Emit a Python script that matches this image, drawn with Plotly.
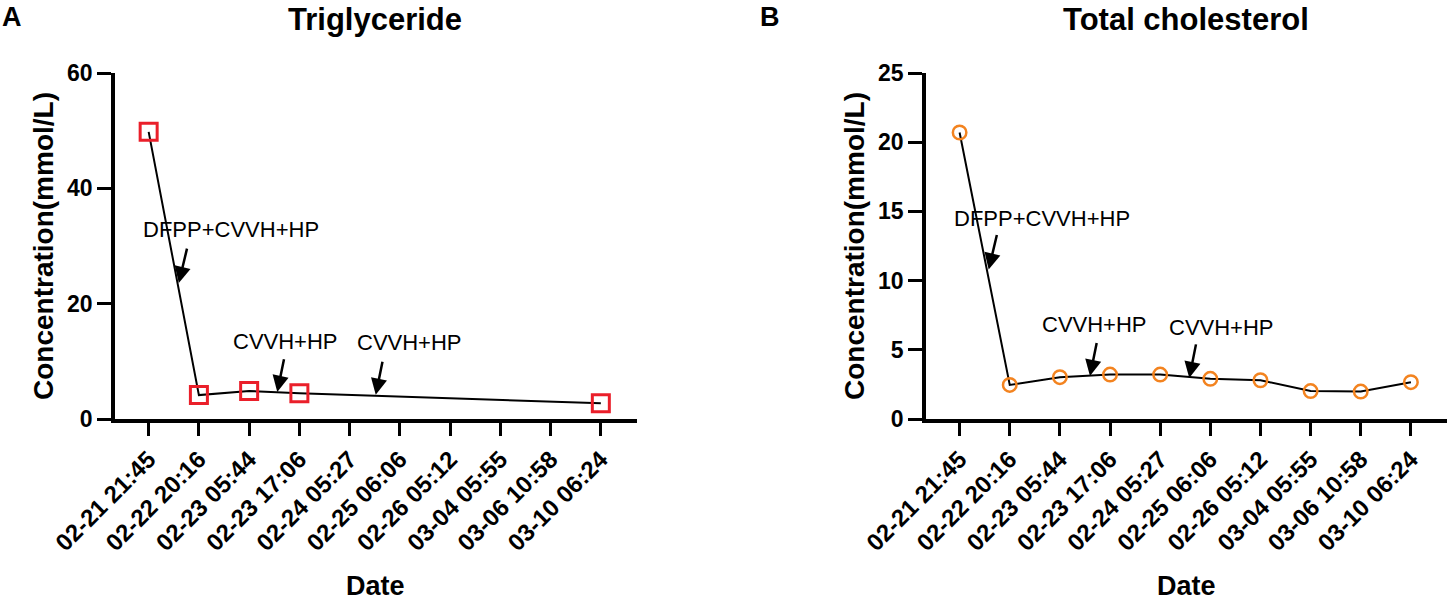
import plotly.graph_objects as go

dates = ["02-21 21:45", "02-22 20:16", "02-23 05:44", "02-23 17:06", "02-24 05:27",
         "02-25 06:06", "02-26 05:12", "03-04 05:55", "03-06 10:58", "03-10 06:24"]
idx = list(range(len(dates)))

tg_values = [49.8, 4.15, 4.85, 4.45, None, None, None, None, None, 2.72]
tc_values = [20.7, 2.46, 3.02, 3.21, 3.21, 2.9, 2.8, 2.02, 1.98, 2.66]

# annotations: (text, text_x, text_y, tail_x, tail_y, tip_x, tip_y)
tg_notes = [
    ("DFPP+CVVH+HP", 1.63, 32.8, 0.77, 29.8, 0.60, 23.6),
    ("CVVH+HP", 2.72, 13.4, 2.70, 10.6, 2.56, 4.7),
    ("CVVH+HP", 5.20, 13.2, 4.66, 10.2, 4.52, 4.2),
]
tc_notes = [
    ("DFPP+CVVH+HP", 1.65, 14.5, 0.75, 13.4, 0.58, 10.8),
    ("CVVH+HP", 2.70, 6.8, 2.74, 5.6, 2.60, 3.1),
    ("CVVH+HP", 5.22, 6.6, 4.72, 5.5, 4.58, 2.96),
]

FONT = "Liberation Sans, Arial, sans-serif"
W, H = 1447, 602


def px(x):
    return x / W


def py(y):
    return 1 - y / H


fig = go.Figure()
fig.add_trace(go.Scatter(
    x=idx, y=tg_values, mode="lines+markers", connectgaps=True,
    line=dict(color="black", width=2),
    marker=dict(symbol="square-open", size=17, color="#ea1f2a", line=dict(width=3, color="#ea1f2a")),
    xaxis="x", yaxis="y", showlegend=False, hoverinfo="skip"))
fig.add_trace(go.Scatter(
    x=idx, y=tc_values, mode="lines+markers",
    line=dict(color="black", width=2),
    marker=dict(symbol="circle-open", size=13.5, color="#f3831f", line=dict(width=2.5, color="#f3831f")),
    xaxis="x2", yaxis="y2", showlegend=False, hoverinfo="skip"))

ydom = [py(419), py(73)]
common_x = dict(
    tickmode="array", tickvals=idx, ticktext=dates, tickangle=-45,
    range=[-0.67, 9.72], showgrid=False, zeroline=False, automargin=False,
    showline=True, linecolor="black", linewidth=3.5,
    ticks="outside", ticklen=13, tickwidth=3, tickcolor="black",
    tickfont=dict(family=FONT, size=24, color="black", weight="bold"),
)
common_y = dict(
    showgrid=False, zeroline=False, showline=True, linecolor="black", linewidth=3.5,
    automargin=False,
    ticks="outside", ticklen=14, tickwidth=3, tickcolor="black",
    tickfont=dict(family=FONT, size=23, color="black", weight="bold"),
    domain=ydom,
)

fig.update_layout(
    width=W, height=H, margin=dict(l=0, r=0, t=0, b=0, autoexpand=False),
    paper_bgcolor="white", plot_bgcolor="white",
    xaxis=dict(domain=[px(115), px(637)], anchor="y", **common_x),
    yaxis=dict(range=[0, 60], tickvals=[0, 20, 40, 60], anchor="x", **common_y),
    xaxis2=dict(domain=[px(926), 1.0], anchor="y2", **common_x),
    yaxis2=dict(range=[0, 25], tickvals=[0, 5, 10, 15, 20, 25], anchor="x2", **common_y),
)

anns = []
# Panel letters and titles
anns.append(dict(text="<b>A</b>", x=0, y=py(17), xref="paper", yref="paper",
                 xanchor="left", yanchor="middle", showarrow=False,
                 font=dict(family=FONT, size=27, color="black")))
anns.append(dict(text="<b>B</b>", x=px(758), y=py(17), xref="paper", yref="paper",
                 xanchor="left", yanchor="middle", showarrow=False,
                 font=dict(family=FONT, size=27, color="black")))
anns.append(dict(text="<b>Triglyceride</b>", x=px(375), y=py(19), xref="paper", yref="paper",
                 xanchor="center", yanchor="middle", showarrow=False,
                 font=dict(family=FONT, size=31, color="black")))
anns.append(dict(text="<b>Total cholesterol</b>", x=px(1186), y=py(19), xref="paper", yref="paper",
                 xanchor="center", yanchor="middle", showarrow=False,
                 font=dict(family=FONT, size=31, color="black")))
# axis titles
for cx in (375, 1186):
    anns.append(dict(text="<b>Date</b>", x=px(cx), y=py(586), xref="paper", yref="paper",
                     xanchor="center", yanchor="middle", showarrow=False,
                     font=dict(family=FONT, size=27, color="black")))
for cx in (43, 854):
    anns.append(dict(text="<b>Concentration(mmol/L)</b>", x=px(cx), y=py(246), xref="paper", yref="paper",
                     xanchor="center", yanchor="middle", showarrow=False, textangle=-90,
                     font=dict(family=FONT, size=28, color="black")))

for notes, xr, yr in ((tg_notes, "x", "y"), (tc_notes, "x2", "y2")):
    for text, tx, ty, axx, ayy, ppx, ppy in notes:
        anns.append(dict(text=text, x=tx, y=ty, xref=xr, yref=yr, showarrow=False,
                         xanchor="center", yanchor="middle",
                         font=dict(family=FONT, size=22, color="black")))
        anns.append(dict(text="", x=ppx, y=ppy, ax=axx, ay=ayy, xref=xr, yref=yr,
                         axref=xr, ayref=yr, showarrow=True, arrowhead=2,
                         arrowsize=1.3, arrowwidth=2.5, arrowcolor="black", standoff=0))

fig.update_layout(annotations=anns)
fig.write_html("out.html", config={"displayModeBar": False},
               post_script="document.body.style.margin='0px';")
